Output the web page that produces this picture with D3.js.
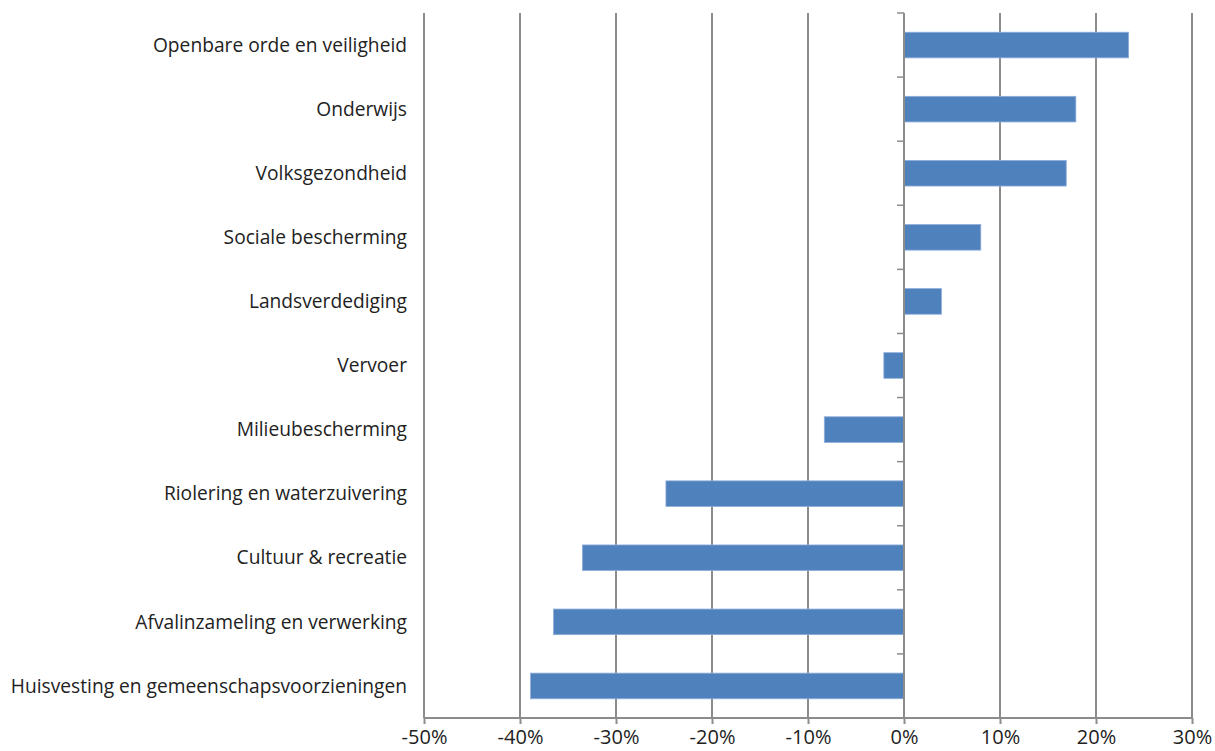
<!DOCTYPE html>
<html>
<head>
<meta charset="utf-8">
<script src="https://cdn.jsdelivr.net/npm/d3@7/dist/d3.min.js"></script>
<style>
  body { margin: 0; background: #fff; }
  svg { display: block; }
  text { font-family: "Open Sans", sans-serif; fill: #222; }
</style>
</head>
<body>
<div id="chart"></div>
<script>
// categories, top to bottom
var categories = [
	"Openbare orde en veiligheid",
	"Onderwijs",
	"Volksgezondheid",
	"Sociale bescherming",
	"Landsverdediging",
	"Vervoer",
	"Milieubescherming",
	"Riolering en waterzuivering",
	"Cultuur & recreatie",
	"Afvalinzameling en verwerking",
	"Huisvesting en gemeenschapsvoorzieningen"
];

// change in percent
var values = [23.4, 17.9, 16.9, 8.0, 3.9, -2.1, -8.3, -24.8, -33.5, -36.5, -38.9];

var xTicks = [-50, -40, -30, -20, -10, 0, 10, 20, 30];

var width = 1215,
	height = 751;

var margin = {top: 13, right: 23, bottom: 33, left: 424};

var svg = d3.select("#chart").append("svg")
	.attr("width", width)
	.attr("height", height);

var x = d3.scaleLinear()
	.domain([-50, 30])
	.range([margin.left, width - margin.right]);

var y = d3.scaleBand()
	.domain(categories)
	.range([margin.top, height - margin.bottom])
	.paddingInner(0.6)
	.paddingOuter(0.3);

var gridColor = "#8c8c8c";

// vertical grid lines
svg.append("g").selectAll("line")
	.data(xTicks.filter(function(d) { return d !== 0; }))
	.enter().append("line")
	.attr("x1", function(d) { return x(d); })
	.attr("x2", function(d) { return x(d); })
	.attr("y1", margin.top)
	.attr("y2", height - margin.bottom)
	.attr("stroke", gridColor)
	.attr("stroke-width", 2);

// bars
svg.append("g").selectAll("rect")
	.data(values)
	.enter().append("rect")
	.attr("x", function(d) { return x(Math.min(0, d)); })
	.attr("y", function(d, i) { return y(categories[i]); })
	.attr("width", function(d) { return Math.abs(x(d) - x(0)); })
	.attr("height", y.bandwidth())
	.attr("fill", "#4f81bd")
	.attr("stroke", "#8faedb")
	.attr("stroke-width", 0.8);

// zero axis with category ticks
var step = y.step();
var boundaries = d3.range(categories.length + 1).map(function(i) { return margin.top + i * step; });

svg.append("line")
	.attr("x1", x(0)).attr("x2", x(0))
	.attr("y1", margin.top).attr("y2", height - margin.bottom)
	.attr("stroke", gridColor)
	.attr("stroke-width", 2);

svg.append("g").selectAll("line")
	.data(boundaries)
	.enter().append("line")
	.attr("x1", x(0) - 7).attr("x2", x(0))
	.attr("y1", function(d) { return d; })
	.attr("y2", function(d) { return d; })
	.attr("stroke", gridColor)
	.attr("stroke-width", 1.5);

// bottom axis
var xAxis = d3.axisBottom(x)
	.tickValues(xTicks)
	.tickSize(6)
	.tickPadding(6)
	.tickFormat(function(d) { return d + "%"; });

var gx = svg.append("g")
	.attr("transform", "translate(0," + (height - margin.bottom) + ")")
	.call(xAxis);

gx.select(".domain").attr("stroke", gridColor).attr("stroke-width", 2)
	.attr("d", "M" + x(-50) + ",0H" + x(30));
gx.selectAll(".tick line").attr("stroke", gridColor).attr("stroke-width", 2);
gx.selectAll(".tick text")
	.style("font-family", "\"Open Sans\", sans-serif")
	.style("font-size", "20px")
	.attr("fill", "#222");

// category labels
svg.append("g").selectAll("text")
	.data(categories)
	.enter().append("text")
	.attr("x", margin.left - 17)
	.attr("y", function(d) { return y(d) + y.bandwidth() / 2; })
	.attr("dy", "0.35em")
	.attr("text-anchor", "end")
	.style("font-size", "19.2px")
	.text(function(d) { return d; });
</script>
</body>
</html>
